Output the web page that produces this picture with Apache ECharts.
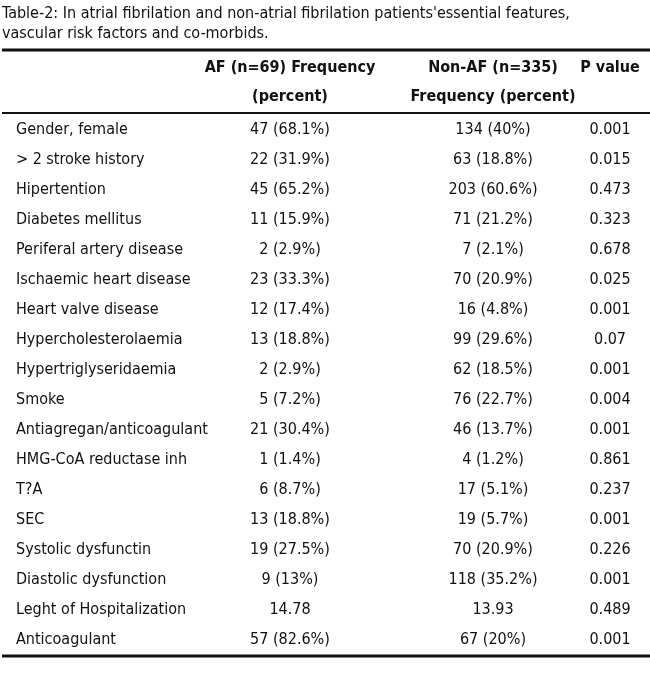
<!DOCTYPE html>
<html><head><meta charset="utf-8">
<script src="https://cdn.jsdelivr.net/npm/echarts@6/dist/echarts.min.js"></script>
<style>html,body{margin:0;background:#fff}#c{width:650px;height:673px}</style>
</head><body><div id="c"></div>
<script>
var rowLabels = ['Gender, female','> 2 stroke history','Hipertention','Diabetes mellitus','Periferal artery disease','Ischaemic heart disease','Heart valve disease','Hypercholesterolaemia','Hypertriglyseridaemia','Smoke','Antiagregan/anticoagulant','HMG-CoA reductase inh','T?A','SEC','Systolic dysfunctin','Diastolic dysfunction','Leght of Hospitalization','Anticoagulant'];
var afValues = ['47 (68.1%)','22 (31.9%)','45 (65.2%)','11 (15.9%)','2 (2.9%)','23 (33.3%)','12 (17.4%)','13 (18.8%)','2 (2.9%)','5 (7.2%)','21 (30.4%)','1 (1.4%)','6 (8.7%)','13 (18.8%)','19 (27.5%)','9 (13%)','14.78','57 (82.6%)'];
var nonAfValues = ['134 (40%)','63 (18.8%)','203 (60.6%)','71 (21.2%)','7 (2.1%)','70 (20.9%)','16 (4.8%)','99 (29.6%)','62 (18.5%)','76 (22.7%)','46 (13.7%)','4 (1.2%)','17 (5.1%)','19 (5.7%)','70 (20.9%)','118 (35.2%)','13.93','67 (20%)'];
var pValues = ['0.001','0.015','0.473','0.323','0.678','0.025','0.001','0.07','0.001','0.004','0.001','0.861','0.237','0.001','0.226','0.001','0.489','0.001'];
var headers = [['AF (n=69) Frequency','(percent)'],['Non-AF (n=335)','Frequency (percent)'],['P value','']];
var title = ["Table-2: In atrial fibrilation and non-atrial fibrilation patients'essential features,", 'vascular risk factors and co-morbids.'];

var FONT = '"Liberation Sans Narrow", "DejaVu Sans Condensed", sans-serif';
var colX = [16, 290, 493, 610];
var columns = [rowLabels, afValues, nonAfValues, pValues];

function cellSeries(ci) {
  return {
    type: 'scatter', symbolSize: 0, silent: true,
    itemStyle: { opacity: 1, color: '#111' },
    data: columns[ci].map(function (t, i) { return { value: [colX[ci], i], name: t }; }),
    label: { show: true, position: 'inside', formatter: '{b}', color: '#111', opacity: 1, fontSize: 16, fontFamily: FONT,
      textBorderWidth: 0, align: ci === 0 ? 'left' : 'center', verticalAlign: 'middle' }
  };
}

var graphic = [
  { type: 'text', left: 2, top: 6, style: { text: title[0], font: '16px ' + FONT, fill: '#111' } },
  { type: 'text', left: 2, top: 26, style: { text: title[1], font: '16px ' + FONT, fill: '#111' } },
  { type: 'line', shape: { x1: 2, y1: 50, x2: 650, y2: 50 }, style: { stroke: '#111', lineWidth: 3 } },
  { type: 'line', shape: { x1: 2, y1: 113, x2: 650, y2: 113 }, style: { stroke: '#111', lineWidth: 2 } },
  { type: 'line', shape: { x1: 2, y1: 656, x2: 650, y2: 656 }, style: { stroke: '#111', lineWidth: 3 } }
];
headers.forEach(function (h, i) {
  h.forEach(function (t, j) {
    graphic.push({ type: 'text', x: colX[i + 1], y: 68 + j * 29,
      style: { text: t, font: 'bold 16px ' + FONT, fill: '#111', textAlign: 'center', textVerticalAlign: 'middle' } });
  });
});

var chart = echarts.init(document.getElementById('c'));
chart.setOption({
  animation: false,
  grid: { left: 0, right: 0, top: 115, bottom: 18 },
  xAxis: { type: 'value', min: 0, max: 650, show: false },
  yAxis: { type: 'value', min: -0.5, max: 17.5, inverse: true, show: false },
  graphic: graphic,
  series: [0, 1, 2, 3].map(cellSeries)
});
</script></body></html>
